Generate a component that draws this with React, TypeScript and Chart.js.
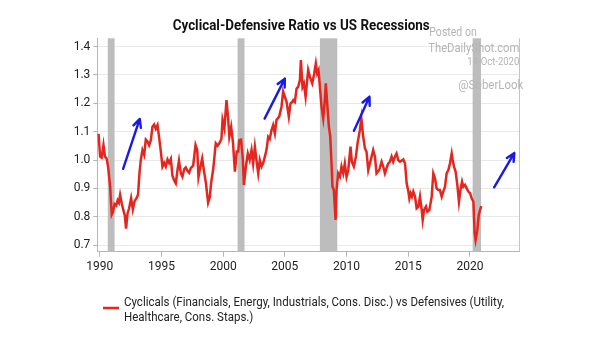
import React, { useEffect, useRef } from "react";
import { Chart, registerables } from "chart.js";

Chart.register(...registerables);

// ---- data ----
const years = [
  1989.9, 1990.03, 1990.15, 1990.3, 1990.42, 1990.55, 1990.68, 1990.84, 1990.97, 1991.08,
  1991.2, 1991.33, 1991.45, 1991.55, 1991.65, 1991.78, 1991.9, 1992.03, 1992.13, 1992.25,
  1992.38, 1992.54, 1992.68, 1992.82, 1992.97, 1993.1, 1993.22, 1993.33, 1993.46, 1993.6,
  1993.73, 1993.86, 1994.0, 1994.14, 1994.27, 1994.41, 1994.54, 1994.68, 1994.81, 1994.95,
  1995.08, 1995.22, 1995.35, 1995.49, 1995.62, 1995.76, 1995.89, 1996.03, 1996.16, 1996.3,
  1996.42, 1996.57, 1996.7, 1996.84, 1996.97, 1997.11, 1997.24, 1997.38, 1997.57, 1997.76,
  1997.9, 1998.0, 1998.15, 1998.3, 1998.45, 1998.6, 1998.78, 1998.92, 1999.02, 1999.2,
  1999.4, 1999.55, 1999.73, 1999.86, 1999.95, 2000.1, 2000.27, 2000.4, 2000.5, 2000.65,
  2000.8, 2000.95, 2001.1, 2001.22, 2001.3, 2001.45, 2001.6, 2001.68, 2001.85, 2002.0,
  2002.15, 2002.3, 2002.43, 2002.57, 2002.7, 2002.84, 2002.97, 2003.11, 2003.25, 2003.38,
  2003.51, 2003.65, 2003.78, 2003.92, 2004.05, 2004.19, 2004.32, 2004.54, 2004.73, 2004.86,
  2005.0, 2005.14, 2005.32, 2005.46, 2005.6, 2005.68, 2005.81, 2005.95, 2006.08, 2006.22,
  2006.3, 2006.43, 2006.54, 2006.68, 2006.81, 2006.89, 2007.03, 2007.22, 2007.38, 2007.51,
  2007.62, 2007.73, 2007.84, 2007.97, 2008.11, 2008.24, 2008.32, 2008.43, 2008.57, 2008.68,
  2008.78, 2008.86, 2008.97, 2009.11, 2009.19, 2009.32, 2009.46, 2009.59, 2009.73, 2009.86,
  2010.0, 2010.14, 2010.32, 2010.43, 2010.59, 2010.76, 2010.89, 2011.08, 2011.2, 2011.35,
  2011.49, 2011.62, 2011.76, 2011.89, 2012.03, 2012.16, 2012.3, 2012.43, 2012.65, 2012.84,
  2012.97, 2013.11, 2013.24, 2013.38, 2013.51, 2013.65, 2013.78, 2013.92, 2014.05, 2014.19,
  2014.33, 2014.6, 2014.74, 2014.87, 2015.01, 2015.09, 2015.19, 2015.3, 2015.41, 2015.55,
  2015.68, 2015.82, 2015.95, 2016.09, 2016.17, 2016.28, 2016.44, 2016.55, 2016.71, 2016.9,
  2017.03, 2017.17, 2017.3, 2017.44, 2017.57, 2017.71, 2017.84, 2017.98, 2018.11, 2018.25,
  2018.38, 2018.52, 2018.6, 2018.71, 2018.84, 2018.98, 2019.11, 2019.25, 2019.36, 2019.47,
  2019.6, 2019.74, 2019.87, 2020.01, 2020.14, 2020.28, 2020.38, 2020.46, 2020.6, 2020.71,
  2020.82, 2020.92,
];

const ratio = [
  1.092, 1.012, 1.008, 1.053, 1.012, 1.006, 0.975, 0.906, 0.808, 0.818,
  0.845, 0.84, 0.858, 0.85, 0.877, 0.848, 0.825, 0.805, 0.758, 0.812,
  0.83, 0.866, 0.826, 0.855, 0.865, 0.878, 0.955, 1.002, 1.035, 1.018,
  1.072, 1.066, 1.052, 1.07, 1.117, 1.125, 1.11, 1.123, 1.08, 1.03,
  0.977, 0.99, 0.977, 1.002, 0.99, 1.004, 0.945, 0.928, 0.918, 0.965,
  0.998, 0.953, 0.941, 0.968, 0.974, 0.962, 0.955, 0.972, 0.98, 1.053,
  1.035, 0.94, 0.975, 1.006, 0.96, 0.92, 0.85, 0.87, 0.918, 0.97,
  1.059, 1.05, 1.062, 1.075, 1.141, 1.111, 1.211, 1.15, 1.082, 1.117,
  1.06, 0.959, 1.03, 1.03, 1.07, 1.072, 1.0, 0.912, 0.98, 1.023,
  1.0, 1.035, 0.988, 1.047, 1.0, 0.953, 1.0, 0.977, 0.99, 1.012,
  1.035, 1.082, 1.075, 1.106, 1.123, 1.094, 1.141, 1.153, 1.188, 1.241,
  1.223, 1.205, 1.153, 1.2, 1.205, 1.211, 1.205, 1.252, 1.258, 1.282,
  1.352, 1.258, 1.27, 1.223, 1.282, 1.317, 1.293, 1.27, 1.305, 1.34,
  1.305, 1.317, 1.258, 1.188, 1.147, 1.211, 1.27, 1.2, 1.117, 1.082,
  0.988, 0.906, 0.894, 0.789, 0.894, 0.953, 0.941, 0.977, 0.953, 0.988,
  0.941, 0.965, 1.047, 0.994, 0.977, 1.012, 1.059, 1.106, 1.147, 1.082,
  1.041, 1.029, 0.965, 0.988, 1.012, 1.035, 1.012, 0.953, 0.965, 0.994,
  0.977, 0.953, 0.971, 0.988, 0.994, 1.012, 0.994, 1.012, 1.023, 1.0,
  0.994, 1.002, 0.988, 0.918, 0.889, 0.865, 0.883, 0.871, 0.889, 0.871,
  0.83, 0.836, 0.871, 0.824, 0.789, 0.824, 0.836, 0.818, 0.824, 0.871,
  0.953, 0.936, 0.9, 0.894, 0.894, 0.871, 0.889, 0.906, 0.953, 0.965,
  0.988, 1.023, 1.0, 0.977, 0.959, 0.912, 0.853, 0.9, 0.924, 0.906,
  0.912, 0.9, 0.889, 0.883, 0.865, 0.853, 0.742, 0.718, 0.753, 0.806,
  0.824, 0.838,
];

const recessionStart = [1990.65, 2001.17, 2007.84, 2020.22];
const recessionEnd = [1991.2, 2001.73, 2009.25, 2020.9];

const arrowFromX = [1991.89, 2003.36, 2010.6, 2021.96];
const arrowFromY = [0.969, 1.146, 1.103, 0.904];
const arrowToX = [1993.24, 2005.0, 2011.86, 2023.6];
const arrowToY = [1.145, 1.287, 1.223, 1.025];

const xTicks = [1990, 1995, 2000, 2005, 2010, 2015, 2020];
const yTicks = [0.7, 0.8, 0.9, 1.0, 1.1, 1.2, 1.3, 1.4];

const titleText = "Cyclical-Defensive Ratio vs US Recessions";
const legendLines = [
  "Cyclicals (Financials, Energy, Industrials, Cons. Disc.) vs Defensives (Utility,",
  "Healthcare, Cons. Staps.)",
];
const watermark = ["Posted on", "TheDailyShot.com", "14-Oct-2020", "@SoberLook"];

// ---- drawing helpers ----
function drawFitted(
  ctx: CanvasRenderingContext2D,
  text: string,
  x: number,
  baseline: number,
  font: string,
  width: number,
  color: string,
  align: "left" | "right" = "left"
) {
  ctx.save();
  ctx.font = font;
  ctx.fillStyle = color;
  ctx.textAlign = "left";
  ctx.textBaseline = "alphabetic";
  const w = ctx.measureText(text).width;
  const s = width / w;
  const x0 = align === "right" ? x - width : x;
  ctx.translate(x0, baseline);
  ctx.scale(s, 1);
  ctx.fillText(text, 0, 0);
  ctx.restore();
  return s;
}

function drawScaled(
  ctx: CanvasRenderingContext2D,
  text: string,
  x: number,
  baseline: number,
  font: string,
  s: number,
  color: string
) {
  ctx.save();
  ctx.font = font;
  ctx.fillStyle = color;
  ctx.textAlign = "left";
  ctx.textBaseline = "alphabetic";
  ctx.translate(x, baseline);
  ctx.scale(s, 1);
  ctx.fillText(text, 0, 0);
  ctx.restore();
}

const recessionPlugin = {
  id: "recessions",
  beforeDatasetsDraw(chart: any) {
    const { ctx, chartArea, scales } = chart;
    const x = scales.x;
    ctx.save();
    ctx.fillStyle = "#bdbdbd";
    recessionStart.forEach((s, i) => {
      const x0 = x.getPixelForValue(s);
      const x1 = x.getPixelForValue(recessionEnd[i]);
      ctx.fillRect(x0, chartArea.top, x1 - x0, chartArea.bottom - chartArea.top);
    });
    ctx.restore();
  },
};

const decorPlugin = {
  id: "decor",
  afterDatasetsDraw(chart: any) {
    const { ctx, scales } = chart;
    const x = scales.x;
    const y = scales.y;
    ctx.save();
    ctx.strokeStyle = "#1a1ae6";
    ctx.lineWidth = 2.4;
    ctx.lineCap = "round";
    ctx.lineJoin = "round";
    arrowFromX.forEach((fx, i) => {
      const x0 = x.getPixelForValue(fx);
      const y0 = y.getPixelForValue(arrowFromY[i]);
      const x1 = x.getPixelForValue(arrowToX[i]);
      const y1 = y.getPixelForValue(arrowToY[i]);
      const ang = Math.atan2(y1 - y0, x1 - x0);
      const head = 9;
      const spread = 0.45;
      ctx.beginPath();
      ctx.moveTo(x0, y0);
      ctx.lineTo(x1, y1);
      ctx.moveTo(x1 - head * Math.cos(ang - spread), y1 - head * Math.sin(ang - spread));
      ctx.lineTo(x1, y1);
      ctx.lineTo(x1 - head * Math.cos(ang + spread), y1 - head * Math.sin(ang + spread));
      ctx.stroke();
    });
    ctx.restore();
  },
  afterDraw(chart: any) {
    const { ctx, chartArea } = chart;
    // right frame line
    ctx.save();
    ctx.strokeStyle = "#c4c4c4";
    ctx.lineWidth = 1;
    ctx.beginPath();
    ctx.moveTo(Math.round(chartArea.right) + 0.5, chartArea.top);
    ctx.lineTo(Math.round(chartArea.right) + 0.5, chartArea.bottom);
    ctx.stroke();
    ctx.restore();

    // title
    drawFitted(ctx, titleText, 172.7, 30, "bold 14px Roboto", 257, "#111111");

    // watermark
    const wm = "#b5b5b5";
    drawFitted(ctx, watermark[0], 429.3, 35.5, "12px Roboto", 47.4, wm);
    drawFitted(ctx, watermark[1], 519.3, 51.5, "13px Roboto", 91, wm, "right");
    drawFitted(ctx, watermark[2], 519.3, 65, "11.5px Roboto", 52, wm, "right");
    drawFitted(ctx, watermark[3], 523.3, 89, "13px Roboto", 65, wm, "right");

    // legend
    ctx.save();
    ctx.strokeStyle = "#e4261f";
    ctx.lineWidth = 2.5;
    ctx.beginPath();
    ctx.moveTo(103, 308);
    ctx.lineTo(119, 308);
    ctx.stroke();
    ctx.restore();
    const s = drawFitted(ctx, legendLines[0], 124, 305.5, "13px Roboto", 380, "#222222");
    drawScaled(ctx, legendLines[1], 124, 321.2, "13px Roboto", s, "#222222");
  },
};

export default function App() {
  const ref = useRef<HTMLCanvasElement>(null);

  useEffect(() => {
    const canvas = ref.current;
    if (!canvas) return;
    const chart = new Chart(canvas, {
      type: "line",
      data: {
        datasets: [
          {
            label: legendLines.join(" "),
            data: years.map((yr, i) => ({ x: yr, y: ratio[i] })),
            borderColor: "#e4261f",
            borderWidth: 2.5,
            pointRadius: 0,
            fill: false,
            tension: 0,
          },
        ],
      },
      options: {
        responsive: false,
        animation: false,
        devicePixelRatio: 1,
        layout: { padding: { left: 0, right: 605 - 519.3, top: 38.3, bottom: 63.3 } },
        plugins: {
          legend: { display: false },
          title: { display: false },
          tooltip: { enabled: false },
        },
        scales: {
          x: {
            type: "linear",
            min: 1989.8,
            max: 2024,
            afterBuildTicks: (scale: any) => {
              scale.ticks = xTicks.map((v) => ({ value: v }));
            },
            afterFit: (scale: any) => {
              scale.height = 26;
            },
            grid: {
              drawOnChartArea: false,
              drawTicks: true,
              tickLength: 5,
              tickColor: "#b5b5b5",
            },
            border: { color: "#b5b5b5", width: 1 },
            ticks: {
              callback: (v: any) => String(v),
              font: { family: "Roboto", size: 12 },
              color: "#222222",
              padding: 3,
              maxRotation: 0,
              autoSkip: false,
            },
          },
          y: {
            type: "linear",
            min: 0.677,
            max: 1.429,
            afterBuildTicks: (scale: any) => {
              scale.ticks = yTicks.map((v) => ({ value: v }));
            },
            afterFit: (scale: any) => {
              scale.width = 97.3;
            },
            grid: {
              color: "#e9e9e9",
              tickColor: "#b5b5b5",
              tickLength: 4,
              drawTicks: true,
            },
            border: { color: "#b5b5b5", width: 1 },
            ticks: {
              callback: (v: any) => Number(v).toFixed(1),
              font: { family: "Roboto", size: 12 },
              color: "#222222",
              padding: 3,
              autoSkip: false,
            },
          },
        },
      },
      plugins: [recessionPlugin, decorPlugin],
    });
    return () => chart.destroy();
  }, []);

  return (
    <div style={{ position: "absolute", left: 0, top: 0, width: 605, height: 341, background: "#ffffff" }}>
      <canvas ref={ref} width={605} height={341} style={{ display: "block" }} />
    </div>
  );
}
